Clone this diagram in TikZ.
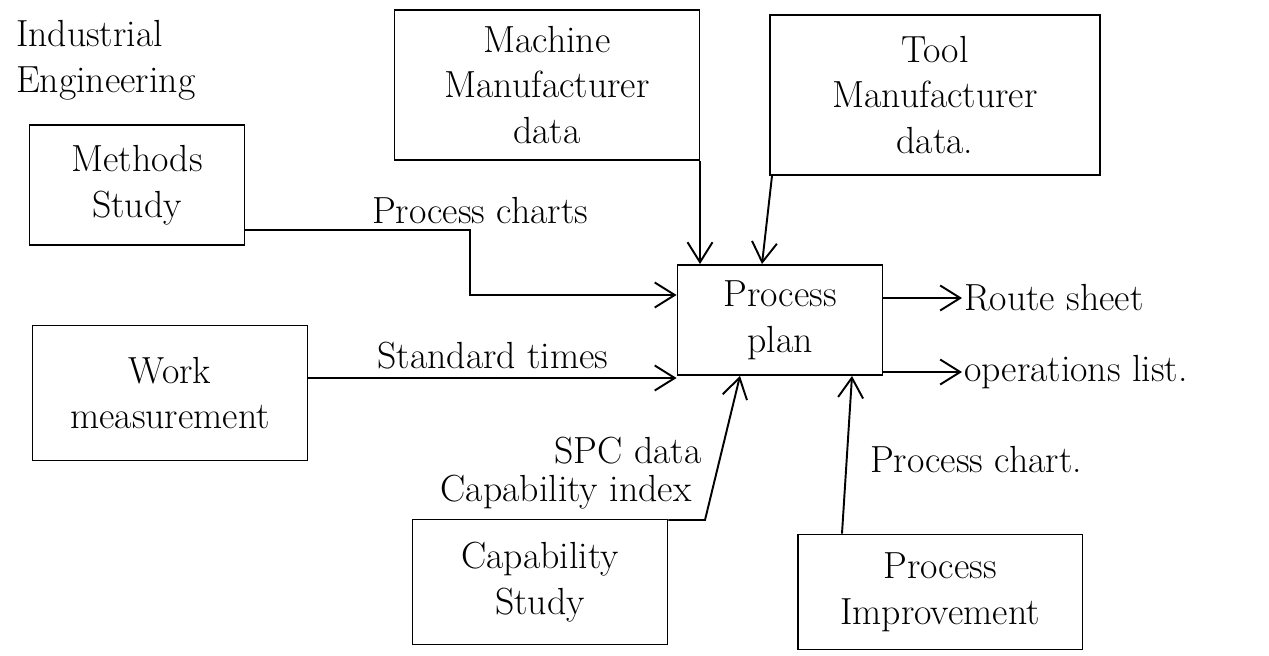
\documentclass[tikz,border=0pt]{standalone}
\usetikzlibrary{arrows.meta}
\begin{document}
\begin{tikzpicture}[x=0.02cm,y=-0.02cm,
  every node/.style={font=\fontsize{21.5}{26}\selectfont},
  box/.style={draw,line width=1.1pt,align=center,inner sep=4pt},
  lbl/.style={inner sep=1pt},
  flow/.style={line width=1.1pt,-{Straight Barb[length=4mm,width=5mm]}}]
  \useasboundingbox (0,0) rectangle (1269,656);

  % heading
  \node[lbl,align=left,anchor=west] (ie) at (14,60) {Industrial\\Engineering};

  % input boxes
  \node[box,minimum width=4.3cm,minimum height=2.4cm] (methods) at (137,185) {Methods\\Study};
  \node[box,minimum width=6.1cm,minimum height=3.0cm] (machine) at (547,85) {Machine\\Manufacturer\\data};
  \node[box,minimum width=6.6cm,minimum height=3.2cm] (tool) at (935,95) {Tool\\Manufacturer\\data.};
  \node[box,minimum width=5.5cm,minimum height=2.7cm] (work) at (170,393) {Work\\measurement};
  \node[box,minimum width=5.1cm,minimum height=2.5cm] (capab) at (540,582) {Capability\\Study};
  \node[box,minimum width=5.7cm,minimum height=2.3cm] (improv) at (940,592) {Process\\Improvement};

  % central box
  \node[box,minimum width=4.1cm,minimum height=2.2cm] (plan) at (780,320) {Process\\plan};

  % outputs
  \node[lbl,anchor=west] (route) at (962,298) {Route sheet};
  \node[lbl,anchor=west] (ops) at (962,372) {operations list.};
  \draw[flow] (plan.east |- route.west) -- (route.west);
  \draw[flow] (plan.east |- ops.west) -- (ops.west);

  % methods study -> plan
  \draw[flow] (methods.east |- 0,230) -| (470,295) -- (plan.west |- 0,295);
  \node[lbl] (pc) at (480,211) {Process charts};

  % work measurement -> plan
  \draw[flow] (work.east |- 0,378) -- (plan.west |- 0,378);
  \node[lbl] (st) at (493,356) {Standard times};

  % manufacturer data -> plan
  \draw[flow] (machine.south -| 700,0) -- (plan.north -| 700,0);
  \draw[flow] (tool.south -| 772,0) -- (plan.north -| 762,0);

  % capability study -> plan
  \draw[flow] (capab.east |- 0,520) -- (705,520) -- (plan.south -| 740,0);
  \node[lbl] (spc) at (628,451) {SPC data};
  \node[lbl] (ci) at (566,492) {Capability index};

  % process improvement -> plan
  \draw[flow] (improv.north -| 842,0) -- (plan.south -| 852,0);
  \node[lbl,anchor=west] (pch) at (868,460) {Process chart.};
\end{tikzpicture}
\end{document}
